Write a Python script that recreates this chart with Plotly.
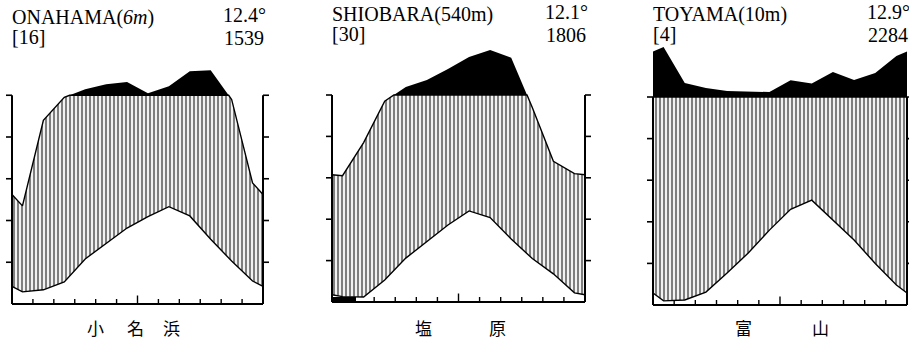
import plotly.graph_objects as go

# ---------------- data ----------------
months = ["Jan", "Feb", "Mar", "Apr", "May", "Jun", "Jul", "Aug", "Sep", "Oct", "Nov", "Dec"]

station_names = ["ONAHAMA", "SHIOBARA", "TOYAMA"]
station_elev = ["<i>6m</i>", "540m", "10m"]
station_years = ["[16]", "[30]", "[4]"]
station_mean_temp = ["12.4°", "12.1°", "12.9°"]
station_annual_precip = ["1539", "1806", "2284"]
station_labels_ja = [["小", "名", "浜"], ["塩", "原"], ["富", "山"]]

# monthly mean temperature (°C)
onahama_temp = [2.9, 3.4, 5.3, 10.8, 14.4, 18.2, 20.9, 23.3, 21.1, 15.5, 10.3, 5.5]
shiobara_temp = [1.3, 1.2, 5.3, 10.6, 14.7, 18.6, 22.0, 20.4, 15.2, 10.5, 6.8, 2.2]
toyama_temp = [1.0, 1.2, 3.1, 7.7, 12.5, 18.0, 23.0, 25.2, 20.4, 15.6, 10.0, 4.8]

# monthly precipitation (mm)
onahama_precip = [47, 88, 99, 129, 153, 163, 110, 143, 215, 220, 98, 58]
shiobara_precip = [61, 77, 97, 139, 172, 225, 283, 317, 280, 94, 68, 62]
toyama_precip = [340, 167, 143, 129, 126, 124, 180, 165, 220, 182, 215, 297]

# months with frost (black bar under the temperature curve)
onahama_frost = []
shiobara_frost = ["Jan"]
toyama_frost = []

temp_ticks = [0, 10, 20, 30, 40, 50]

temps = [onahama_temp, shiobara_temp, toyama_temp]
precs = [onahama_precip, shiobara_precip, toyama_precip]
frosts = [onahama_frost, shiobara_frost, toyama_frost]

# ---------------- layout geometry (pixels) ----------------
W, H = 909, 341
panels = [
    dict(left=12, right=263, zero=304, top=95.25, dom=(0, 297)),
    dict(left=332, right=585, zero=302, top=95.0, dom=(300, 618)),
    dict(left=653, right=907, zero=305, top=97.0, dom=(622, 909)),
]
title_rows = [(18, 37), (15, 34), (15, 34)]
value_rows = [(15, 38), (12, 35), (12, 35)]
label_x = [[95, 135, 171], [423, 498], [743, 820]]
label_y = 327

SERIF = "Liberation Serif, Times New Roman, serif"
CJK = "Noto Sans CJK JP, Noto Sans CJK SC, sans-serif"


def scale_p(p):
    return p / 2.0 if p <= 100 else 50.0 + (p - 100) / 20.0


def insert_crossings(xs, ys, level):
    ox, oy = [xs[0]], [ys[0]]
    for i in range(1, len(xs)):
        y0, y1 = ys[i - 1], ys[i]
        if (y0 - level) * (y1 - level) < 0:
            f = (level - y0) / (y1 - y0)
            ox.append(xs[i - 1] + f * (xs[i] - xs[i - 1]))
            oy.append(level)
        ox.append(xs[i])
        oy.append(ys[i])
    return ox, oy


fig = go.Figure()
shapes = []
annotations = []
layout_axes = {}

for k in range(3):
    g = panels[k]
    xa = "x" if k == 0 else f"x{k+1}"
    ya = "y" if k == 0 else f"y{k+1}"
    xname = "xaxis" if k == 0 else f"xaxis{k+1}"
    yname = "yaxis" if k == 0 else f"yaxis{k+1}"

    ppm = (g["right"] - g["left"]) / 12.0
    upp = 50.0 / (g["zero"] - g["top"])  # temperature units per pixel
    xr = [(g["dom"][0] - g["left"]) / ppm, (g["dom"][1] - g["left"]) / ppm]
    yr = [-(H - g["zero"]) * upp, g["zero"] * upp]

    layout_axes[xname] = dict(domain=[g["dom"][0] / W, g["dom"][1] / W], range=xr,
                              visible=False, anchor=ya, fixedrange=True)
    layout_axes[yname] = dict(domain=[0, 1], range=yr, visible=False, anchor=xa,
                              fixedrange=True)

    t = temps[k]
    p = precs[k]
    t_edge = (t[0] + t[-1]) / 2.0
    p_edge = (p[0] + p[-1]) / 2.0
    xs = [0.0] + [i + 0.5 for i in range(12)] + [12.0]
    ty = [t_edge] + list(t) + [t_edge]
    sy = [scale_p(v) for v in [p_edge] + list(p) + [p_edge]]
    cx, cy = insert_crossings(xs, sy, 50.0)
    hatch_top = [min(v, 50.0) for v in cy]
    black_top = [max(v, 50.0) for v in cy]

    # temperature curve (lower bound of humid area)
    fig.add_trace(go.Scatter(x=xs, y=ty, mode="lines", xaxis=xa, yaxis=ya,
                             line=dict(color="black", width=1.4), hoverinfo="skip",
                             showlegend=False))
    # precipitation up to 100 mm, hatched humid season
    fig.add_trace(go.Scatter(x=cx, y=hatch_top, mode="lines", xaxis=xa, yaxis=ya,
                             fill="tonexty", fillcolor="white",
                             fillpattern=dict(shape="|", size=4, solidity=0.55,
                                              fgcolor="black", bgcolor="white"),
                             line=dict(color="black", width=1.4), hoverinfo="skip",
                             showlegend=False))
    # invisible 100 mm base and compressed part above 100 mm (black)
    fig.add_trace(go.Scatter(x=[0, 12], y=[50, 50], mode="lines", xaxis=xa, yaxis=ya,
                             line=dict(color="rgba(0,0,0,0)", width=0), hoverinfo="skip",
                             showlegend=False))
    fig.add_trace(go.Scatter(x=cx, y=black_top, mode="lines", xaxis=xa, yaxis=ya,
                             fill="tonexty", fillcolor="black",
                             line=dict(color="rgba(0,0,0,0)", width=0), hoverinfo="skip",
                             showlegend=False))
    # frost months
    if frosts[k]:
        fx = [months.index(m) for m in frosts[k]]
        fy = [t[i] for i in fx]
        fig.add_trace(go.Bar(x=fx, y=fy, width=1.15, offset=0, xaxis=xa, yaxis=ya,
                             marker=dict(color="black", line=dict(width=0)),
                             hoverinfo="skip", showlegend=False))

    # axes lines
    line_style = dict(color="black", width=2)
    shapes.append(dict(type="line", xref=xa, yref=ya, x0=0, x1=0, y0=0, y1=50, line=line_style))
    shapes.append(dict(type="line", xref=xa, yref=ya, x0=12, x1=12, y0=0, y1=50, line=line_style))
    shapes.append(dict(type="line", xref=xa, yref=ya, x0=0, x1=12, y0=0, y1=0, line=line_style))
    tl = 6.0 / ppm
    for tv in temp_ticks[1:]:
        shapes.append(dict(type="line", xref=xa, yref=ya, x0=-tl, x1=0, y0=tv, y1=tv,
                           line=dict(color="black", width=1.6)))
        shapes.append(dict(type="line", xref=xa, yref=ya, x0=12, x1=12 + tl, y0=tv, y1=tv,
                           line=dict(color="black", width=1.6)))
    for m in range(1, 12):
        ln = (8.5 if m == 6 else 5.0) * upp
        shapes.append(dict(type="line", xref=xa, yref=ya, x0=m, x1=m, y0=0, y1=ln,
                           line=dict(color="black", width=1.4)))

    # header texts
    r1, r2 = title_rows[k]
    v1, v2 = value_rows[k]
    hdr = dict(xref="paper", yref="paper", yanchor="middle", showarrow=False, borderpad=0)
    annotations.append(dict(hdr, x=(g["left"] - 1) / W, y=1 - r1 / H, xanchor="left",
                            text=f"{station_names[k]}({station_elev[k]})",
                            font=dict(family=SERIF, size=20, color="black")))
    annotations.append(dict(hdr, x=(g["left"] - 1) / W, y=1 - r2 / H, xanchor="left",
                            text=station_years[k],
                            font=dict(family=SERIF, size=20, color="black")))
    annotations.append(dict(hdr, x=(g["right"] + 4) / W, y=1 - v1 / H, xanchor="right",
                            text=station_mean_temp[k],
                            font=dict(family=SERIF, size=20, color="black")))
    annotations.append(dict(hdr, x=(g["right"] + 2) / W, y=1 - v2 / H, xanchor="right",
                            text=station_annual_precip[k],
                            font=dict(family=SERIF, size=20, color="black")))
    for ch, lx in zip(station_labels_ja[k], label_x[k]):
        annotations.append(dict(xref="paper", yref="paper", x=lx / W, y=1 - label_y / H,
                                xanchor="center", yanchor="middle", showarrow=False,
                                text=ch, font=dict(family=CJK, size=17, color="black")))

fig.update_layout(
    width=W, height=H,
    margin=dict(l=0, r=0, t=0, b=0),
    paper_bgcolor="white", plot_bgcolor="white",
    showlegend=False,
    shapes=shapes,
    annotations=annotations,
    bargap=0,
    **layout_axes,
)

fig.write_html("out.html", config={"displayModeBar": False},
               post_script="document.body.style.margin='0px';document.body.style.overflow='hidden';")
